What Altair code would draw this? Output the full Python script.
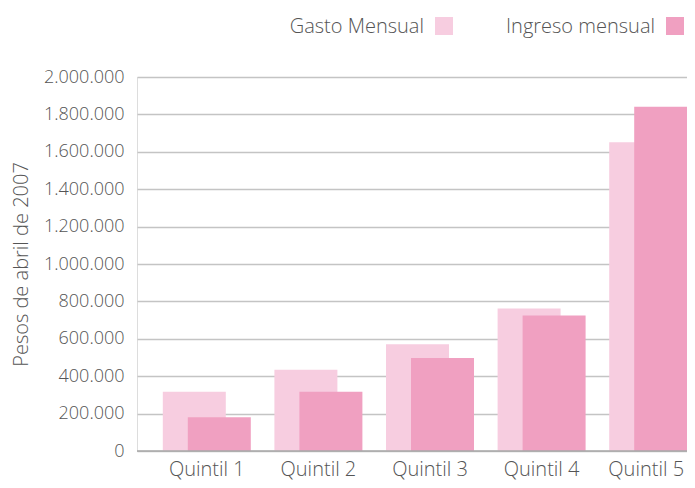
import altair as alt
import pandas as pd

quintiles = ["Quintil 1", "Quintil 2", "Quintil 3", "Quintil 4", "Quintil 5"]
gasto = [317000, 434000, 571000, 762000, 1651000]
ingreso = [180000, 317000, 497000, 725000, 1841000]
y_ticks = [0, 200000, 400000, 600000, 800000, 1000000, 1200000, 1400000, 1600000, 1800000, 2000000]
series_names = ["Gasto Mensual", "Ingreso mensual"]
series_colors = ["#F7CDE0", "#F0A0C1"]

df_g = pd.DataFrame({"quintil": quintiles, "valor": gasto})
df_i = pd.DataFrame({"quintil": quintiles, "valor": ingreso})
df_base = pd.DataFrame({"valor": [0]})

FONT = "Open Sans"
TXT = "#555555"

x_enc = alt.X(
    "quintil:N",
    sort=quintiles,
    scale=alt.Scale(paddingInner=0, paddingOuter=0, range=[0, 558]),
    axis=alt.Axis(
        title=None, domain=False, ticks=False, tickSize=0, labelAngle=0,
        labelFontSize=20, labelFont=FONT, labelFontWeight=300, labelColor=TXT,
        labelOffset={"condition": {"test": "datum.value == 'Quintil 5'", "value": 7}, "value": 14},
        labelPadding=24, labelBaseline="alphabetic",
    ),
)
y_axis = alt.Axis(
    values=y_ticks, domain=False, ticks=False, tickSize=0,
    labelExpr="replace(format(datum.value, ',d'), /,/g, '.')",
    labelOverlap=False,
    labelFontSize=18, labelFont=FONT, labelFontWeight=300, labelColor=TXT,
    labelPadding=13,
    gridColor="#c4c4c4", gridWidth=1.5,
    title="Pesos de abril de 2007", titleFont=FONT, titleFontSize=20,
    titleFontWeight=300, titleColor=TXT, titleAngle=270,
    titleX=-116, titleY=187, titleAlign="center", titleBaseline="middle",
)
y_enc = alt.Y("valor:Q", scale=alt.Scale(domain=[0, 2000000], nice=False), axis=y_axis)

bars_g = alt.Chart(df_g).mark_bar(
    color=series_colors[0], width=63, xOffset=1.5, clip=True
).encode(x=x_enc, y=y_enc)

bars_i = alt.Chart(df_i).mark_bar(
    color=series_colors[1], width=63, xOffset=26.5, clip=True
).encode(x=x_enc, y=y_enc)

base_rule = alt.Chart(df_base).mark_rule(
    color="#a8a8a8", strokeWidth=1.5
).encode(y=y_enc)

leg_text_g = alt.Chart(pd.DataFrame({"t": [series_names[0]]})).mark_text(
    align="right", baseline="alphabetic", font=FONT, fontSize=20, fontWeight=300, color=TXT
).encode(text="t:N", x=alt.value(287), y=alt.value(-44))
leg_sq_g = alt.Chart(pd.DataFrame({"t": [series_names[0]]})).mark_square(
    size=324, color=series_colors[0], opacity=1
).encode(x=alt.value(307), y=alt.value(-51))
leg_text_i = alt.Chart(pd.DataFrame({"t": [series_names[1]]})).mark_text(
    align="right", baseline="alphabetic", font=FONT, fontSize=20, fontWeight=300, color=TXT
).encode(text="t:N", x=alt.value(518), y=alt.value(-44))
leg_sq_i = alt.Chart(pd.DataFrame({"t": [series_names[1]]})).mark_square(
    size=324, color=series_colors[1], opacity=1
).encode(x=alt.value(538), y=alt.value(-51))

chart = alt.layer(
    bars_g, bars_i, base_rule, leg_text_g, leg_sq_g, leg_text_i, leg_sq_i
).properties(
    width=550, height=374,
    padding={"left": 129, "top": 69, "right": 0, "bottom": 29},
    autosize=alt.AutoSizeParams(type="none"),
).configure_view(stroke=None).configure(background="white")

chart.save("out.html", embed_options={"renderer": "svg", "actions": False})
